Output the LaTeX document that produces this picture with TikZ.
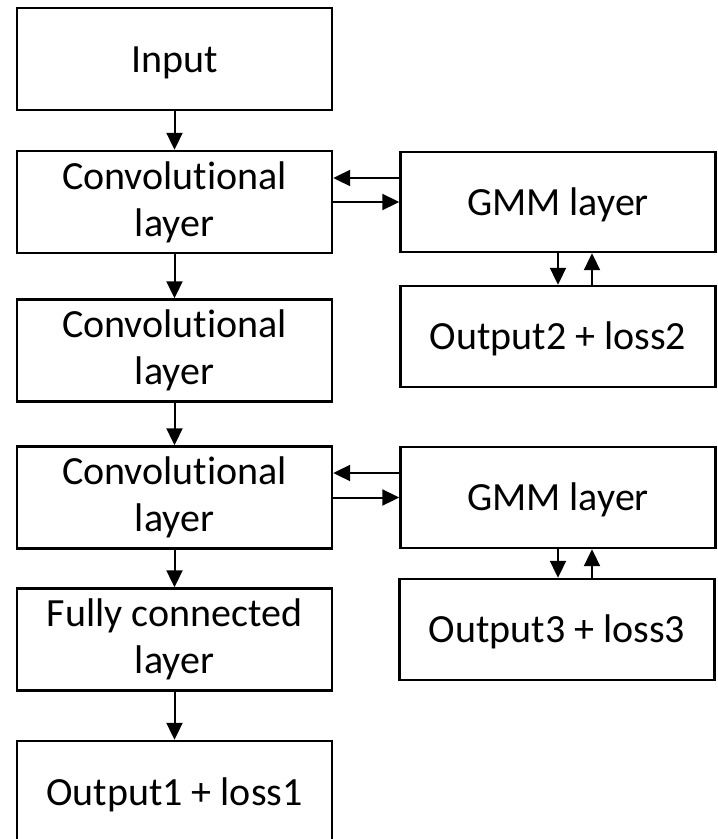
\documentclass[tikz,border=0pt]{standalone}
\usepackage{fontspec}
\setmainfont[Ligatures={NoCommon,NoRare,NoContextual}]{Carlito}
\usetikzlibrary{arrows.meta}
\begin{document}
\begin{tikzpicture}[x=1pt,y=-1pt,
  blk/.style={draw=black, line width=2.4pt, minimum width=315pt, minimum height=102pt,
    inner sep=0pt, align=center, font=\fontsize{40}{47}\selectfont},
  one/.style={text height=26pt, text depth=0pt},
  arr/.style={line width=2pt, -{Triangle[length=17pt,width=16pt]}}]
\fill[white] (0,0) rectangle (718,839);
\useasboundingbox (0,0) rectangle (718,839);
\begin{scope}
\clip (0,0) rectangle (718,839);
\node[blk, one] (in) at (174.5,59) {Input};
\node[blk] (c1) at (174.5,202) {Convolutional\\layer};
\node[blk] (c2) at (174.5,350.5) {Convolutional\\layer};
\node[blk] (c3) at (174.5,497.5) {Convolutional\\layer};
\node[blk] (fc) at (174.5,639.5) {Fully connected\\layer};
\node[blk, one] (o1) at (174.5,792) {Output1 + loss1};
\node[blk, one, minimum height=100pt] (g1) at (558,202) {GMM layer};
\node[blk, one, minimum height=101pt] (o2) at (558,336.5) {Output2 + loss2};
\node[blk, one, minimum height=101pt] (g2) at (558,497.5) {GMM layer};
\node[blk, one, minimum height=101pt] (o3) at (557,629.5) {Output3 + loss3};
\end{scope}
\draw[arr] (in) -- (c1);
\draw[arr] (c1) -- (c2);
\draw[arr] (c2) -- (c3);
\draw[arr] (c3) -- (fc);
\draw[arr] (fc) -- (o1);
\draw[arr] ([yshift=24pt]g1.west) -- ([yshift=24pt]c1.east);
\draw[arr] (c1.east) -- (g1.west);
\draw[arr] ([yshift=24.5pt]g2.west) -- ([yshift=24.5pt]c3.east);
\draw[arr] (c3.east) -- (g2.west);
\draw[arr] (g1.south) -- (g1.south |- o2.north);
\draw[arr] ([xshift=34pt]o2.north) -- ([xshift=34pt]o2.north |- g1.south);
\draw[arr] (g2.south) -- (g2.south |- o3.north);
\draw[arr] ([xshift=35pt]o3.north) -- ([xshift=35pt]o3.north |- g2.south);
\end{tikzpicture}
\end{document}
